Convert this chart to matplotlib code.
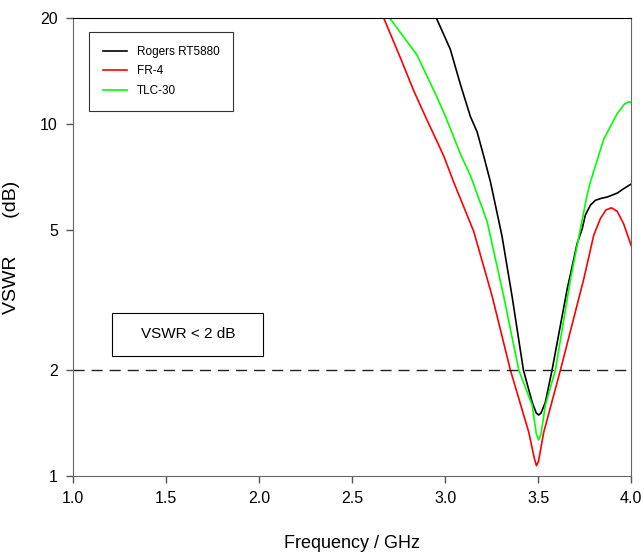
import matplotlib.pyplot as plt
from matplotlib.patches import Rectangle

plt.rcParams['font.family'] = ['Liberation Sans', 'DejaVu Sans']

# Rogers RT5880 (black)
freqRogers = [2.93, 2.953, 3.028, 3.082, 3.136, 3.172, 3.207, 3.244, 3.306, 3.360, 3.421, 3.468,
              3.490, 3.503, 3.516, 3.539, 3.575, 3.656, 3.710, 3.737, 3.754, 3.781, 3.808,
              3.840, 3.871, 3.925, 3.96, 4.0]
vswrRogers = [22.0, 20.0, 16.3, 12.97, 10.5, 9.5, 8.13, 6.84, 4.8, 3.24, 2.0, 1.62,
              1.51, 1.49, 1.51, 1.62, 2.0, 3.39, 4.58, 5.04, 5.51, 5.88, 6.07,
              6.15, 6.2, 6.36, 6.55, 6.75]

# FR-4 (red)
freqFR4 = [2.64, 2.670, 2.760, 2.831, 2.894, 2.992, 3.046, 3.154, 3.253, 3.351, 3.45, 3.480,
           3.491, 3.502, 3.53, 3.62, 3.745, 3.799, 3.835, 3.865, 3.894, 3.925, 3.96, 4.0]
vswrFR4 = [22.0, 20.0, 15.4, 12.44, 10.5, 8.13, 6.84, 4.95, 3.24, 2.0, 1.33, 1.12,
           1.07, 1.1, 1.33, 2.0, 3.62, 4.83, 5.39, 5.70, 5.78, 5.65, 5.2, 4.52]

# TLC-30 (green)
freqTLC = [2.67, 2.702, 2.849, 2.957, 3.002, 3.086, 3.136, 3.226, 3.315, 3.396, 3.468, 3.490,
           3.503, 3.516, 3.539, 3.593, 3.674, 3.763, 3.781, 3.853, 3.925, 3.965, 3.987, 4.0]
vswrTLC = [22.0, 20.0, 15.7, 11.9, 10.5, 8.13, 7.14, 5.28, 3.24, 2.0, 1.59, 1.32,
           1.265, 1.32, 1.59, 2.0, 3.62, 6.27, 6.84, 9.06, 10.7, 11.4, 11.56, 11.5]

yticks = [1, 2, 5, 10, 20]
xticks = [1.0, 1.5, 2.0, 2.5, 3.0, 3.5, 4.0]

fig = plt.figure(figsize=(6.44, 5.54), dpi=100)
ax = fig.add_axes([0.1134, 0.1408, 0.8666, 0.8267])

ax.plot(freqRogers, vswrRogers, color='black', lw=1.2, label='Rogers RT5880')
ax.plot(freqFR4, vswrFR4, color='#ff0000', lw=1.2, label='FR-4')
ax.plot(freqTLC, vswrTLC, color='#00ff00', lw=1.2, label='TLC-30')
ax.axhline(2, color='#222222', lw=1.0, ls=(0, (8, 5)))

ax.set_yscale('log')
ax.set_ylim(1, 20)
ax.set_xlim(1.0, 4.0)
ax.set_yticks(yticks)
ax.set_yticklabels([str(v) for v in yticks])
ax.yaxis.set_minor_locator(plt.NullLocator())
ax.set_xticks(xticks)
ax.set_xticklabels(['%.1f' % v for v in xticks])
ax.tick_params(direction='out', length=5, width=1, color='#555555', labelsize=11.5, pad=6)

for side in ['left', 'bottom', 'right']:
    ax.spines[side].set_color('#666666')
ax.spines['top'].set_color('black')

ax.set_xlabel('Frequency / GHz', fontsize=13, labelpad=21)
ax.set_ylabel('VSWR       (dB)', fontsize=14)
ax.yaxis.set_label_coords(-0.095, 0.5)

leg = ax.legend(loc='upper left', bbox_to_anchor=(0.0287, 0.969), fontsize=8.5, frameon=True,
                fancybox=False, edgecolor='black', handlelength=2.1, borderpad=1.15,
                labelspacing=0.65, handletextpad=0.8, borderaxespad=0)
leg.get_frame().set_linewidth(0.8)

ax.add_patch(Rectangle((0.0699, 0.262), 0.2706, 0.094, transform=ax.transAxes,
                       fc='white', ec='black', lw=0.8))
ax.text(0.206, 0.309, 'VSWR < 2 dB', transform=ax.transAxes, fontsize=11,
        ha='center', va='center')

fig.savefig('out.png', dpi=100)
